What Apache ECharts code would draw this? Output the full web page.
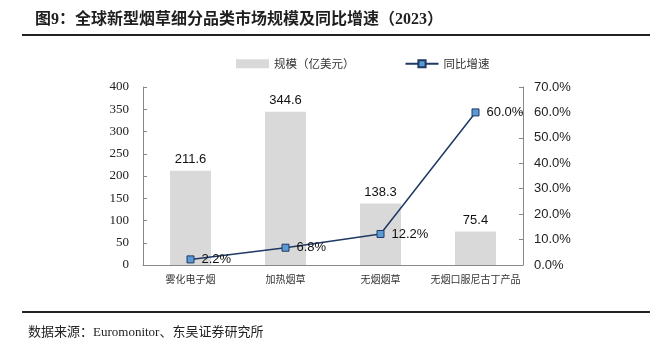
<!DOCTYPE html>
<html>
<head>
<meta charset="utf-8">
<script src="https://cdn.jsdelivr.net/npm/echarts@6/dist/echarts.min.js"></script>
<style>
  html, body { margin: 0; padding: 0; background: #fff; }
  #chart { width: 671px; height: 343px; }
</style>
</head>
<body>
<div id="chart"></div>
<script>
// Categories and values
const categories = ['雾化电子烟', '加热烟草', '无烟烟草', '无烟口服尼古丁产品'];
const marketSize = [211.6, 344.6, 138.3, 75.4];      // 亿美元
const yoyGrowth = [2.2, 6.8, 12.2, 60.0];            // %
const leftTicks = [0, 50, 100, 150, 200, 250, 300, 350, 400];
const rightTicks = [0, 10, 20, 30, 40, 50, 60, 70];

const serif = '"Liberation Serif", "Noto Sans CJK SC", serif';
const sans = '"Liberation Sans", Arial, sans-serif';
const cjk = '"Noto Sans CJK SC", sans-serif';

const chart = echarts.init(document.getElementById('chart'), null, { renderer: 'canvas' });

chart.setOption({
  backgroundColor: '#ffffff',
  animation: false,
  title: {
    text: '图9：全球新型烟草细分品类市场规模及同比增速（2023）',
    left: 30,
    top: 7,
    textStyle: { fontFamily: serif, fontWeight: 'bold', fontSize: 16, color: '#1f1f1f' }
  },
  graphic: [
    { type: 'line', shape: { x1: 22, y1: 35, x2: 650, y2: 35 }, style: { stroke: '#222', lineWidth: 2 } },
    { type: 'line', shape: { x1: 22, y1: 312, x2: 650, y2: 312 }, style: { stroke: '#222', lineWidth: 2 } },
    {
      type: 'text', left: 28, top: 326,
      style: { text: '数据来源：Euromonitor、东吴证券研究所', font: '13px ' + serif, fill: '#222' }
    }
  ],
  legend: {
    top: 53,
    left: 231,
    itemGap: 50,
    itemWidth: 33,
    itemHeight: 9,
    textStyle: { fontFamily: cjk, fontSize: 11.5, color: '#333' },
    data: [
      { name: '规模（亿美元）', icon: 'rect' },
      { name: '同比增速' }
    ]
  },
  grid: { left: 143, right: 148, top: 87, bottom: 78, containLabel: false },
  xAxis: {
    type: 'category',
    data: categories,
    axisLine: { lineStyle: { color: '#888', width: 1 } },
    axisTick: { inside: true, length: 4, lineStyle: { color: '#888' } },
    axisLabel: { interval: 0, fontFamily: cjk, fontSize: 10, color: '#333', margin: 9 }
  },
  yAxis: [
    {
      type: 'value',
      min: leftTicks[0],
      max: leftTicks[leftTicks.length - 1],
      interval: 50,
      axisLine: { show: true, lineStyle: { color: '#888' } },
      axisTick: { show: true, inside: true, length: 4, lineStyle: { color: '#888' } },
      splitLine: { show: false },
      axisLabel: { fontFamily: serif, fontSize: 13, color: '#222', margin: 14 }
    },
    {
      type: 'value',
      min: rightTicks[0],
      max: rightTicks[rightTicks.length - 1],
      interval: 10,
      position: 'right',
      axisLine: { show: true, lineStyle: { color: '#888' } },
      axisTick: { show: true, inside: true, length: 4, lineStyle: { color: '#888' } },
      splitLine: { show: false },
      axisLabel: {
        fontFamily: sans, fontSize: 13, color: '#222', margin: 11,
        formatter: v => v.toFixed(1) + '%'
      }
    }
  ],
  series: [
    {
      name: '规模（亿美元）',
      type: 'bar',
      data: marketSize,
      barWidth: 41,
      itemStyle: { color: '#d9d9d9' },
      label: {
        show: true, position: 'top', distance: 5,
        fontFamily: sans, fontSize: 13, color: '#111',
        formatter: p => p.value.toFixed(1)
      }
    },
    {
      name: '同比增速',
      type: 'line',
      yAxisIndex: 1,
      data: yoyGrowth,
      symbol: 'rect',
      symbolSize: 7,
      lineStyle: { color: '#1f3864', width: 1.5 },
      itemStyle: { color: '#5b9bd5', borderColor: '#1f3864', borderWidth: 1 },
      label: {
        show: true, position: 'right', distance: 7,
        fontFamily: sans, fontSize: 13, color: '#111',
        formatter: p => p.value.toFixed(1) + '%'
      },
      z: 5
    }
  ]
});
</script>
</body>
</html>
